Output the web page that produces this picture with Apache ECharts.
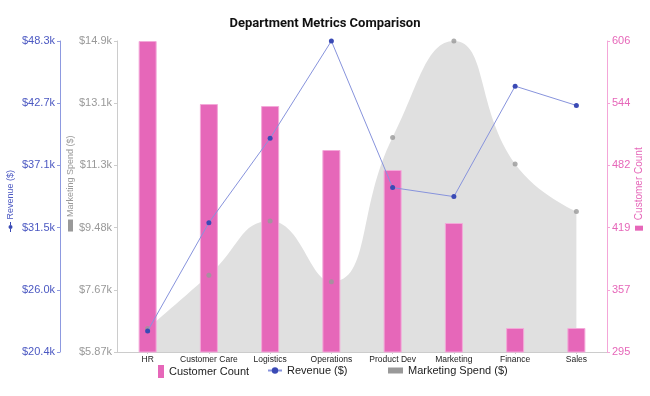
<!DOCTYPE html>
<html>
<head>
<meta charset="utf-8">
<script src="https://cdn.jsdelivr.net/npm/echarts@6.0.0/dist/echarts.min.js"></script>
<style>
  html, body { margin: 0; padding: 0; background: #fff; }
  #chart { width: 650px; height: 396px; }
</style>
</head>
<body>
<div id="chart"></div>
<script>
const departments = ['HR', 'Customer Care', 'Logistics', 'Operations', 'Product Dev', 'Marketing', 'Finance', 'Sales']
const customerCount = [606, 543, 541, 497, 477, 424, 319, 319]
const revenue = [22270, 31980, 39560, 48280, 35130, 34320, 44230, 42500]
const marketingSpend = [6550, 8100, 9670, 7910, 12100, 14900, 11330, 9950]

const revenueTicks = [20380, 25960, 31540, 37120, 42700, 48280]
const revenueLabels = ['$20.4k', '$26.0k', '$31.5k', '$37.1k', '$42.7k', '$48.3k']
const marketingTicks = [5868, 7674, 9481, 11287, 13094, 14900]
const marketingLabels = ['$5.87k', '$7.67k', '$9.48k', '$11.3k', '$13.1k', '$14.9k']
const customerTicks = [295, 357.2, 419.4, 481.6, 543.8, 606]
const customerLabels = ['295', '357', '419', '482', '544', '606']

const c = {
  pink: '#e667b9',
  pinkEdge: '#f3a9d9',
  pinkAxis: '#f4a6d8',
  blue: '#3a4ab5',
  blueLine: '#8793dc',
  blueText: '#4b58c2',
  blueAxis: '#8d99e0',
  gray: '#999999',
  grayAxis: '#cccccc',
  area: '#e0e0e0'
}
const font = "'Liberation Sans', Arial, sans-serif"

function labelFrom(ticks, labels) {
  return (v) => {
    const i = ticks.findIndex((t) => Math.abs(t - v) < 1e-6)
    return i >= 0 ? labels[i] : ''
  }
}

function valueAxis(o) {
  return {
    type: 'value',
    position: o.position,
    offset: o.offset || 0,
    min: o.ticks[0],
    max: o.ticks[o.ticks.length - 1],
    name: o.name,
    nameLocation: 'middle',
    nameRotate: 90,
    nameGap: o.nameGap,
    nameMoveOverlap: false,
    nameTextStyle: { color: o.text, fontFamily: font, fontSize: o.nameSize, rich: o.rich },
    axisLine: { show: true, lineStyle: { color: o.line, width: 1 } },
    axisTick: { show: true, length: 3, lineStyle: { color: o.line }, customValues: o.ticks },
    axisLabel: {
      color: o.text, fontFamily: font, fontSize: 11, margin: 5,
      customValues: o.ticks,
      formatter: labelFrom(o.ticks, o.labels)
    },
    splitLine: { show: false }
  }
}

const chart = echarts.init(document.getElementById('chart'))

chart.setOption({
  animation: false,
  title: {
    text: 'Department Metrics Comparison',
    left: 'center',
    top: 12,
    textStyle: { fontFamily: 'Roboto, sans-serif', fontWeight: 'bold', fontSize: 13, color: '#111' }
  },
  grid: { left: 117, right: 43, top: 41, bottom: 44, outerBoundsMode: 'none' },
  legend: [
    {
      data: ['Customer Count'], left: 153, top: 360, itemWidth: 6, itemHeight: 13, icon: 'rect',
      itemStyle: { borderWidth: 0 },
      textStyle: { color: '#222', fontFamily: font, fontSize: 11 }
    },
    {
      data: ['Revenue ($)'], left: 262, top: 360, itemWidth: 14, itemHeight: 8,
      textStyle: { color: '#222', fontFamily: font, fontSize: 11 }
    },
    {
      data: ['Marketing Spend ($)'], left: 383, top: 360, itemWidth: 15, itemHeight: 6, icon: 'rect',
      itemStyle: { borderWidth: 0 },
      textStyle: { color: '#222', fontFamily: font, fontSize: 11 }
    }
  ],
  xAxis: {
    type: 'category',
    data: departments,
    boundaryGap: true,
    axisLine: { lineStyle: { color: '#cccccc' } },
    axisTick: { show: true, alignWithLabel: true, length: 2, lineStyle: { color: '#cccccc' } },
    axisLabel: { color: '#222', fontFamily: font, fontSize: 8.5, margin: 3, interval: 0 }
  },
  yAxis: [
    valueAxis({
      position: 'left', offset: 57, ticks: revenueTicks, labels: revenueLabels,
      name: '{ln|}{dot|}{ln|} Revenue ($){p|}', nameGap: 45, nameSize: 9,
      text: c.blueText, line: c.blueAxis,
      rich: {
        ln: { width: 3, height: 1, backgroundColor: c.blue },
        dot: { width: 4, height: 4, borderRadius: 2, backgroundColor: c.blue },
        p: { width: 9 }
      }
    }),
    valueAxis({
      position: 'left', offset: 0, ticks: marketingTicks, labels: marketingLabels,
      name: '{p|}{sq|} Marketing Spend ($)', nameGap: 42, nameSize: 9,
      text: c.gray, line: c.grayAxis,
      rich: { p: { width: 26 }, sq: { width: 12, height: 5, backgroundColor: c.gray } }
    }),
    valueAxis({
      position: 'right', offset: 0, ticks: customerTicks, labels: customerLabels,
      name: '{p|}{sq|}  Customer Count', nameGap: 27, nameSize: 10,
      text: c.pink, line: c.pinkAxis,
      rich: { p: { width: 15 }, sq: { width: 5, height: 8, backgroundColor: c.pink } }
    })
  ],
  series: [
    {
      name: 'Marketing Spend ($)',
      type: 'line',
      yAxisIndex: 1,
      data: marketingSpend,
      smooth: true,
      showSymbol: false,
      symbol: 'rect',
      lineStyle: { width: 0, color: c.gray },
      itemStyle: { color: c.gray },
      areaStyle: { color: c.area, opacity: 1 },
      z: 1
    },
    {
      name: 'Customer Count',
      type: 'bar',
      yAxisIndex: 2,
      data: customerCount,
      barWidth: 18,
      itemStyle: { color: c.pink, borderColor: c.pinkEdge, borderWidth: 1 },
      z: 2
    },
    {
      name: 'Marketing Spend ($)',
      type: 'scatter',
      yAxisIndex: 1,
      data: marketingSpend,
      symbolSize: 5,
      itemStyle: { color: c.gray },
      z: 3
    },
    {
      name: 'Revenue ($)',
      type: 'line',
      yAxisIndex: 0,
      data: revenue,
      symbol: 'circle',
      symbolSize: 5,
      lineStyle: { width: 1, color: c.blueLine },
      itemStyle: { color: c.blue },
      z: 4
    }
  ]
})
</script>
</body>
</html>
